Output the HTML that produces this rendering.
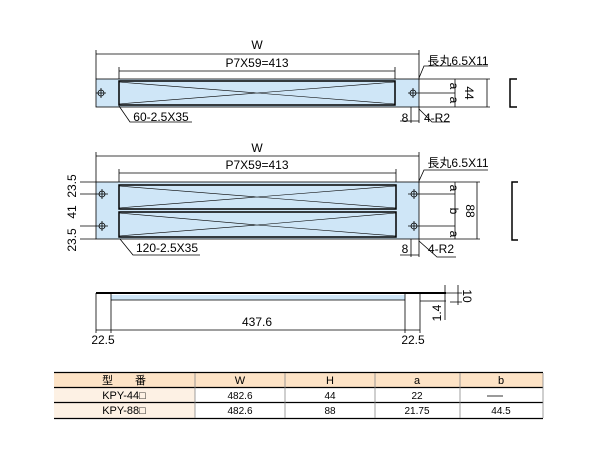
<!DOCTYPE html>
<html><head><meta charset="utf-8"><style>
body{margin:0;background:#fff}
svg{display:block;font-family:"Liberation Sans","Noto Sans CJK JP",sans-serif}
</style></head><body>
<svg width="600" height="450" viewBox="0 0 600 450" xmlns="http://www.w3.org/2000/svg">
<g stroke="#000" stroke-width="0.8" fill="none">
<rect x="96" y="79" width="323" height="28" fill="#cfe6f7"/>
<rect x="119" y="81" width="276" height="24" stroke-width="1.5"/>
<path d="M119 82 L257 93 L395 82 M119 104 L257 93 L395 104" stroke-width="0.6"/>
<circle cx="101" cy="93" r="3"/><circle cx="413" cy="93" r="3"/>
<path d="M96 93H106M101 88V98M408 93H455M413 88V98"/>
<path d="M96 54H419M96 50V79M419 50V79M119 71H395M119 67V79M395 67V79"/>
<path d="M419 79H490M419 107H490M455 79V107M487 79V107"/>
<path d="M419 78L424 66H488M411 107V123M419 107V123M400 121H419"/>
<path d="M419 109L432 122H450M119 106L130 122H192"/>
<path d="M517 79H510V107H517" stroke-width="1.5"/>
<rect x="96" y="182" width="323" height="57" fill="#cfe6f7"/>
<rect x="119" y="185" width="277" height="24" stroke-width="1.5"/>
<rect x="119" y="212" width="277" height="25" stroke-width="1.5"/>
<path d="M119 186 L257 197 L396 186 M119 208 L257 197 L396 208 M119 213 L257 225 L396 213 M119 236 L257 225 L396 236" stroke-width="0.6"/>
<circle cx="102" cy="194" r="3"/><circle cx="414" cy="194" r="3"/>
<circle cx="102" cy="226" r="3"/><circle cx="414" cy="226" r="3"/>
<path d="M80 194H108M102 189V199M80 226H108M102 221V231M408 194H455M414 189V199M408 226H455M414 221V231"/>
<path d="M80 182H96M80 239H96"/>
<path d="M96 156H419M96 152V182M419 152V182M119 173H396M119 169V182M396 169V182"/>
<path d="M419 182H480M419 239H480M455 182V239M477 182V239"/>
<path d="M419 181L424 170H488M411 239V257M419 239V257M400 255H419"/>
<path d="M419 241L437 257H456M120 239L133 255H200"/>
<path d="M518 182H512V240H518" stroke-width="1.5"/>
<path d="M96 293H446" stroke-width="2"/>
<rect x="111" y="295" width="294" height="5" fill="#cfe6f7" stroke="none"/>
<path d="M111 300H405M96 293V333M111 293V333M405 293V333M420 293V333M96 330H420M420 301H446"/>
<path d="M445 285V320M458 285V305M440 293H462M450 302H462"/>
<rect x="54" y="373" width="489" height="14" fill="#fde3c6" stroke="none"/>
<rect x="54" y="388" width="141" height="30" fill="#fdf1e4" stroke="none"/>
<path d="M54 372.5H543M54 387.5H543M54 402.5H543M54 418.5H543" stroke-width="1.2"/>
<path d="M195 373V418M285 373V418M375 373V418M460 373V418M543 373V418" stroke="#888"/>
<path d="M487 396H503"/>
</g>
<g font-size="12" fill="#000" text-anchor="middle">
<text x="257" y="49">W</text>
<text x="257" y="67">P7X59=413</text>
<text x="458" y="65">長丸6.5X11</text>
<text x="161" y="121">60-2.5X35</text>
<text x="405" y="122">8</text>
<text x="437" y="122">4-R2</text>
<text transform="translate(450,86) rotate(90)">a</text>
<text transform="translate(450,100) rotate(90)">a</text>
<text transform="translate(465,93) rotate(90)">44</text>
<text x="257" y="152">W</text>
<text x="257" y="169">P7X59=413</text>
<text x="458" y="167">長丸6.5X11</text>
<text x="167" y="252">120-2.5X35</text>
<text x="405" y="253">8</text>
<text x="441" y="253">4-R2</text>
<text transform="translate(450,188) rotate(90)">a</text>
<text transform="translate(450,211) rotate(90)">b</text>
<text transform="translate(450,234) rotate(90)">a</text>
<text transform="translate(466,211) rotate(90)">88</text>
<text transform="translate(76,186) rotate(-90)">23.5</text>
<text transform="translate(76,212) rotate(-90)">41</text>
<text transform="translate(76,240) rotate(-90)">23.5</text>
<text x="257" y="326">437.6</text>
<text x="103" y="344">22.5</text>
<text x="413" y="344">22.5</text>
<text transform="translate(463,296) rotate(90)">10</text>
<text transform="translate(441,313) rotate(-90)">1.4</text>
</g>
<g font-size="11" fill="#000" text-anchor="middle">
<text x="124" y="384">型　　番</text>
<text x="240" y="384">W</text><text x="330" y="384">H</text><text x="417" y="384">a</text><text x="501" y="384">b</text>
<text x="124" y="399">KPY-44□</text>
<text x="240" y="399" font-size="10">482.6</text><text x="330" y="399" font-size="10">44</text><text x="417" y="399" font-size="10">22</text>
<text x="124" y="414">KPY-88□</text>
<text x="240" y="414" font-size="10">482.6</text><text x="330" y="414" font-size="10">88</text><text x="417" y="414" font-size="10">21.75</text><text x="501" y="414" font-size="10">44.5</text>
</g>
</svg>
</body></html>
